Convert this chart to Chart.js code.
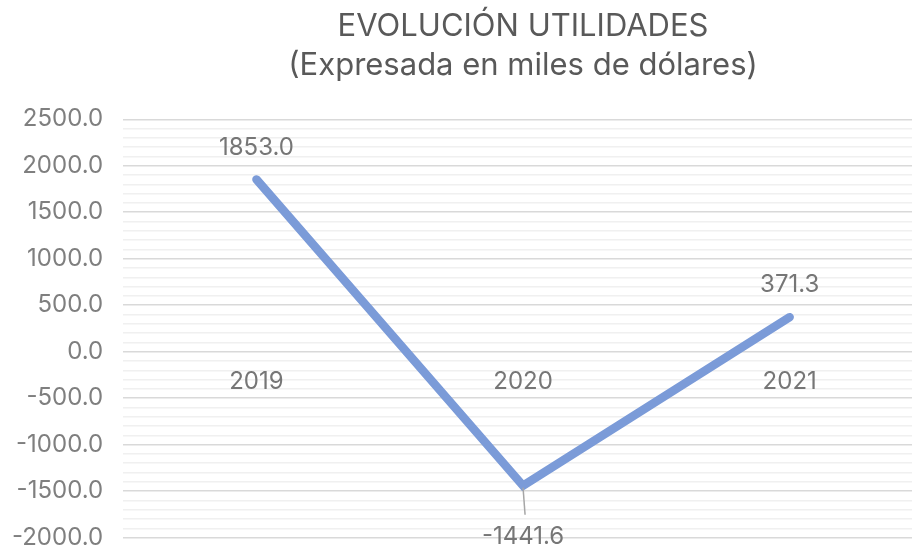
<!DOCTYPE html>
<html>
<head>
<meta charset="utf-8">
<script src="https://cdn.jsdelivr.net/npm/chart.js@4/dist/chart.umd.min.js"></script>
<style>
  html, body { margin: 0; padding: 0; background: #fff; overflow: hidden; }
  #wrap { width: 933px; height: 572px; margin-left: -8px; }
</style>
</head>
<body>
<div id="wrap"><canvas id="utilChart"></canvas></div>
<script>
// datos
const years = ["2019", "2020", "2021"];
const utilidades = [1853.0, -1441.6, 371.3];
const titleLines = ["EVOLUCIÓN UTILIDADES", "(Expresada en miles de dólares)"];
const yMin = -2000;
const yMax = 2500;

const FONT = "Inter, Roboto, sans-serif";

// etiquetas de datos y de categorías junto a la línea del cero
const labelsPlugin = {
  id: "excelLabels",
  afterDatasetsDraw(chart) {
    const ctx = chart.ctx;
    const x = chart.scales.x;
    const y = chart.scales.y;
    const zeroY = y.getPixelForValue(0);
    ctx.save();
    ctx.font = "24px " + FONT;
    ctx.fillStyle = "#767676";
    ctx.textAlign = "center";
    ctx.textBaseline = "middle";
    years.forEach((yr, i) => {
      ctx.fillText(yr, x.getPixelForValue(i), zeroY + 30);
    });
    utilidades.forEach((v, i) => {
      const px = x.getPixelForValue(i);
      const py = y.getPixelForValue(v);
      if (v < 0) {
        ctx.strokeStyle = "#a6a6a6";
        ctx.lineWidth = 1.5;
        ctx.beginPath();
        ctx.moveTo(px, py + 2);
        ctx.lineTo(px + 2, py + 29);
        ctx.stroke();
        ctx.fillText(v.toFixed(1), px, py + 51);
      } else {
        ctx.fillText(v.toFixed(1), px, py - 32);
      }
    });
    ctx.restore();
  }
};

new Chart(document.getElementById("utilChart"), {
  type: "line",
  data: {
    labels: years,
    datasets: [
      {
        data: utilidades,
        borderColor: "#7b9bd8",
        borderWidth: 8.5,
        borderCapStyle: "round",
        borderJoinStyle: "miter",
        pointRadius: 0,
        tension: 0,
      },
    ],
  },
  options: {
    responsive: true,
    maintainAspectRatio: false,
    animation: false,
    layout: { padding: { left: 0, right: 2, bottom: 10, top: 0 } },
    scales: {
      x: {
        display: false,
        offset: true,
      },
      y: {
        min: yMin,
        max: yMax,
        border: { display: false },
        grid: {
          drawTicks: false,
          lineWidth: 1.5,
          color: (c) => (c.tick && c.tick.value % 500 === 0 ? "#d9d9d9" : "#f0f0f0"),
        },
        ticks: {
          stepSize: 100,
          autoSkip: false,
          padding: 20,
          color: "#7f7f7f",
          font: { family: FONT, size: 24 },
          callback: (v) => (v % 500 === 0 ? v.toFixed(1) : ""),
        },
      },
    },
    plugins: {
      legend: { display: false },
      tooltip: { enabled: false },
      title: {
        display: true,
        fullSize: false,
        text: titleLines,
        color: "#595959",
        font: { family: FONT, size: 31, weight: "normal", lineHeight: 1.23 },
        padding: { top: 8, bottom: 35 },
      },
    },
  },
  plugins: [labelsPlugin],
});
</script>
</body>
</html>
